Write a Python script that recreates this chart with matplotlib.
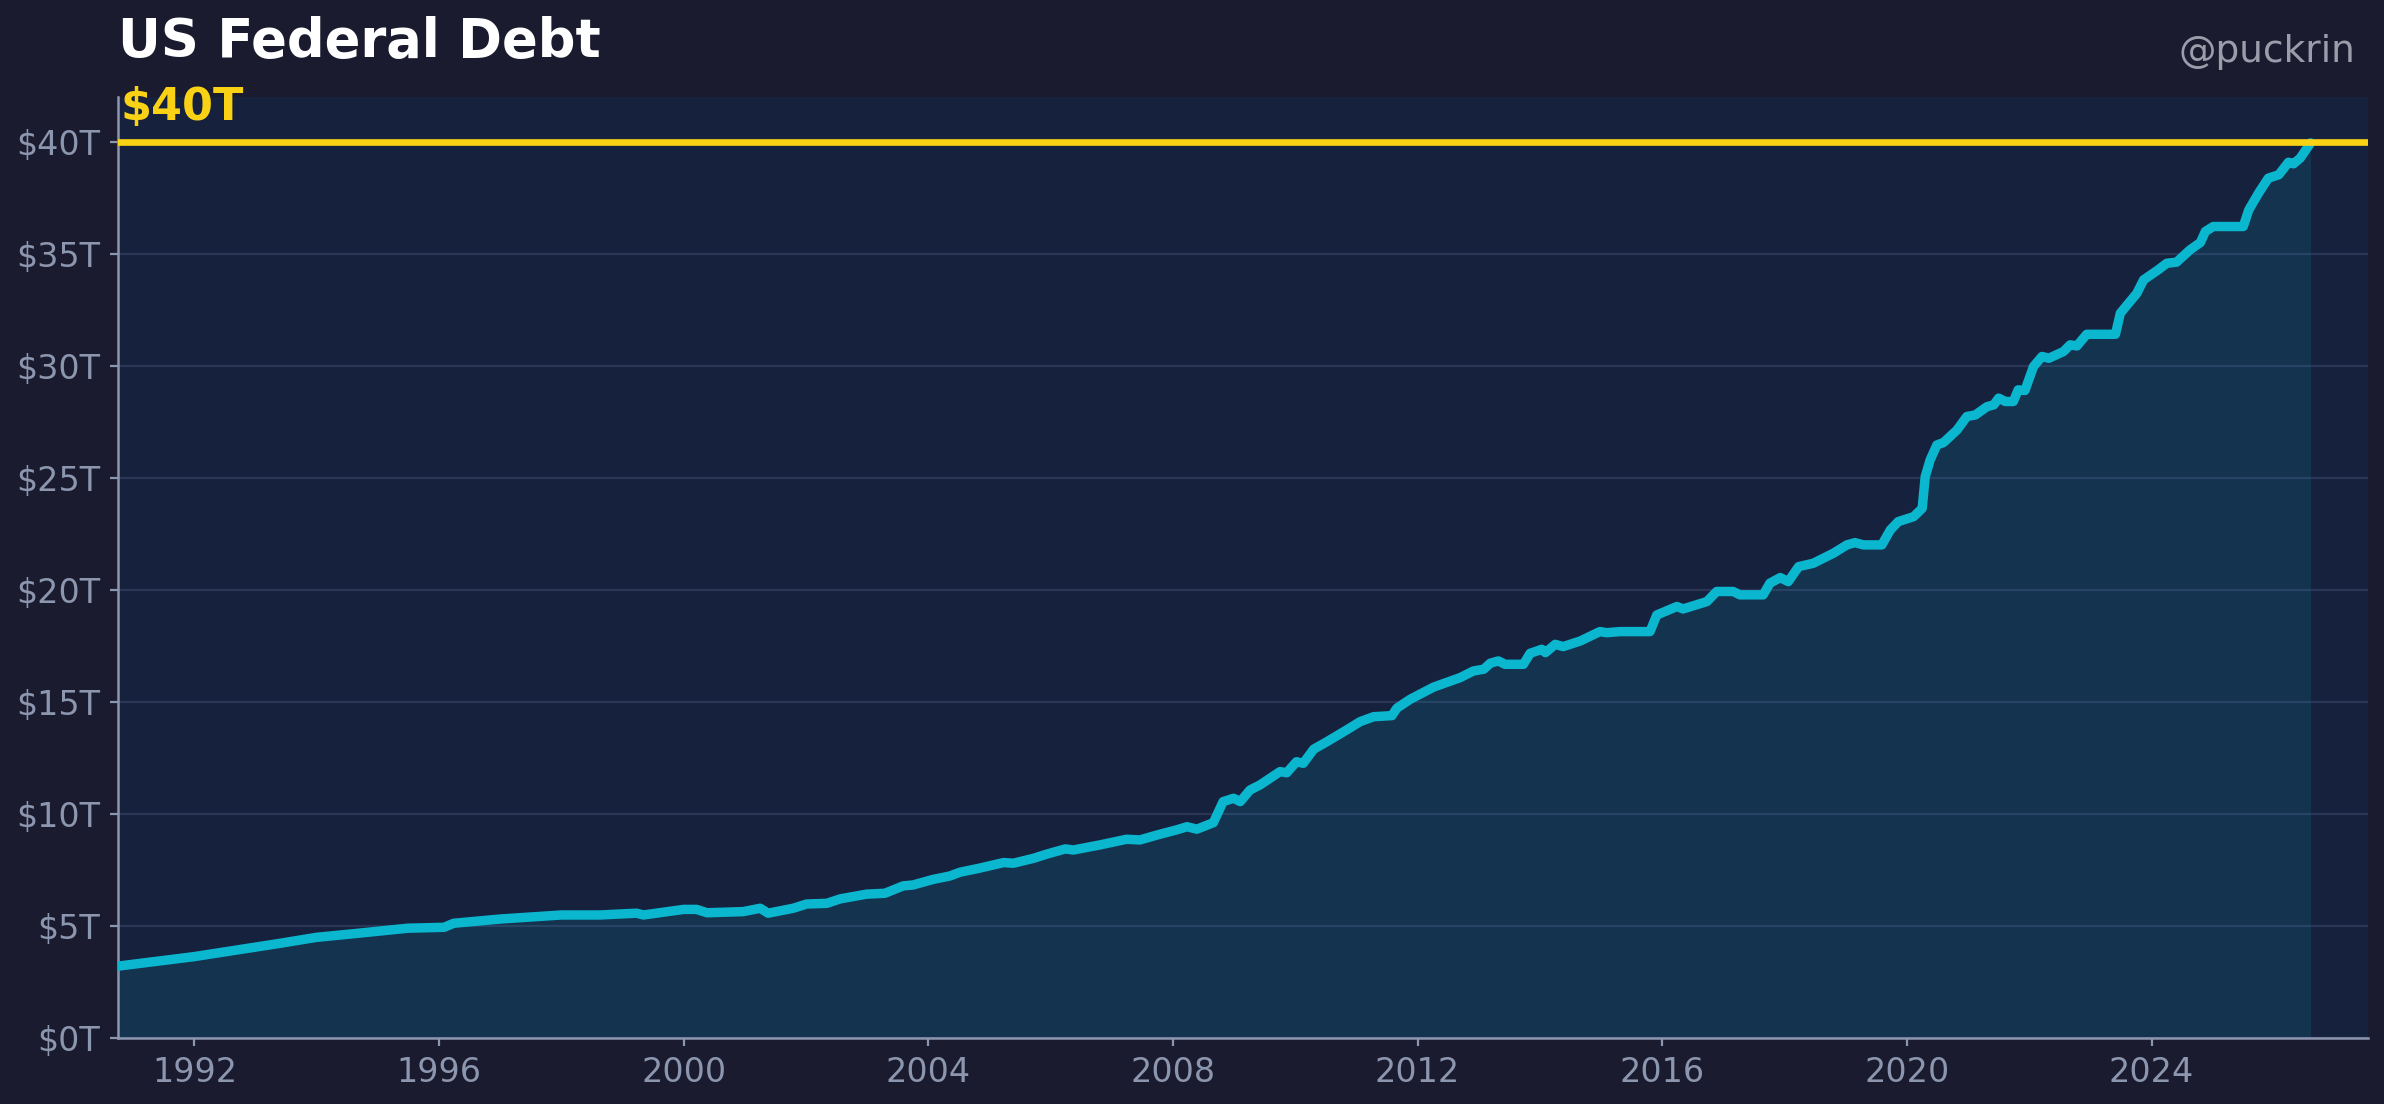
import matplotlib
matplotlib.use("Agg")
import matplotlib.pyplot as plt

# Colours
FIG_BG = "#1a1b2e"
AX_BG = "#16213e"
LINE_COLOR = "#0ab7cf"
LIMIT_COLOR = "#fad215"
MUTED = "#8c96af"

# US federal debt (trillions of dollars)
years = [
    1990.76, 1991.99, 1993.41, 1993.99, 1994.66, 1995.49, 1996.08, 1996.24,
    1997.00, 1998.00, 1998.63, 1999.23, 1999.34, 2000.00, 2000.21, 2000.38,
    2000.97, 2001.25, 2001.38, 2001.79, 2002.01, 2002.34, 2002.56, 2002.99,
    2003.29, 2003.59, 2003.75, 2004.08, 2004.35, 2004.52, 2004.82, 2005.23,
    2005.39, 2005.72, 2005.94, 2006.24, 2006.37, 2006.81, 2007.24, 2007.46,
    2007.74, 2008.06, 2008.23, 2008.39, 2008.66, 2008.82, 2008.99, 2009.10,
    2009.26, 2009.42, 2009.75, 2009.86, 2010.02, 2010.13, 2010.30, 2010.52,
    2010.84, 2011.06, 2011.28, 2011.58, 2011.66, 2011.88, 2012.26, 2012.70,
    2012.91, 2013.08, 2013.19, 2013.32, 2013.43, 2013.73, 2013.84, 2014.03,
    2014.09, 2014.25, 2014.38, 2014.66, 2014.98, 2015.09, 2015.31, 2015.80,
    2015.91, 2016.24, 2016.34, 2016.73, 2016.89, 2017.16, 2017.27, 2017.65,
    2017.76, 2017.93, 2018.06, 2018.23, 2018.47, 2018.80, 2019.02, 2019.15,
    2019.29, 2019.59, 2019.73, 2019.86, 2020.11, 2020.25, 2020.30, 2020.38,
    2020.49, 2020.60, 2020.82, 2020.98, 2021.12, 2021.31, 2021.42, 2021.50,
    2021.61, 2021.74, 2021.82, 2021.93, 2022.07, 2022.21, 2022.32, 2022.56,
    2022.67, 2022.78, 2022.94, 2023.41, 2023.49, 2023.76, 2023.87, 2024.11,
    2024.25, 2024.41, 2024.63, 2024.80, 2024.88, 2025.01, 2025.50, 2025.59,
    2025.75, 2025.91, 2026.08, 2026.24, 2026.32, 2026.43, 2026.60,
]
debt = [
    3.21, 3.63, 4.23, 4.49, 4.67, 4.90, 4.94, 5.12,
    5.31, 5.49, 5.49, 5.57, 5.49, 5.74, 5.74, 5.59,
    5.64, 5.79, 5.57, 5.79, 5.98, 6.01, 6.21, 6.42,
    6.46, 6.79, 6.83, 7.08, 7.23, 7.40, 7.57, 7.83,
    7.80, 8.02, 8.21, 8.44, 8.39, 8.62, 8.87, 8.84,
    9.06, 9.29, 9.43, 9.32, 9.61, 10.55, 10.70, 10.55,
    11.07, 11.29, 11.89, 11.84, 12.33, 12.26, 12.89, 13.23,
    13.75, 14.12, 14.34, 14.39, 14.72, 15.12, 15.66, 16.09,
    16.38, 16.46, 16.73, 16.83, 16.68, 16.68, 17.17, 17.35,
    17.20, 17.57, 17.47, 17.72, 18.14, 18.09, 18.14, 18.14,
    18.88, 19.26, 19.15, 19.48, 19.93, 19.93, 19.78, 19.78,
    20.30, 20.55, 20.37, 21.04, 21.19, 21.64, 22.01, 22.11,
    22.01, 22.01, 22.68, 23.05, 23.27, 23.64, 25.06, 25.80,
    26.47, 26.58, 27.14, 27.74, 27.81, 28.18, 28.26, 28.56,
    28.41, 28.41, 28.93, 28.90, 29.97, 30.42, 30.34, 30.64,
    30.94, 30.89, 31.41, 31.41, 32.35, 33.24, 33.84, 34.29,
    34.58, 34.63, 35.18, 35.51, 36.00, 36.22, 36.22, 36.96,
    37.71, 38.38, 38.53, 39.09, 39.02, 39.27, 39.95,
]

milestone = 40
x_ticks = [1992, 1996, 2000, 2004, 2008, 2012, 2016, 2020, 2024]
y_ticks = [0, 5, 10, 15, 20, 25, 30, 35, 40]
y_labels = [f"${v}T" for v in y_ticks]

fig = plt.figure(figsize=(11.92, 5.52), dpi=200, facecolor=FIG_BG)
ax = fig.add_axes([0.0495, 0.0598, 0.9438, 0.8523])
ax.set_facecolor(AX_BG)

# debt line + area
ax.fill_between(years, debt, 0, color=LINE_COLOR, alpha=0.12, linewidth=0)
ax.plot(years, debt, color=LINE_COLOR, linewidth=3.4, solid_joinstyle="round",
        solid_capstyle="round", zorder=3)

# $40T threshold
ax.axhline(milestone, color=LIMIT_COLOR, linewidth=2.4, zorder=4)
ax.text(years[0] + 0.03, milestone + 0.98, f"${milestone}T", color=LIMIT_COLOR,
        fontsize=16, fontweight="bold", va="baseline", ha="left")

ax.set_xlim(1990.75, 2027.54)
ax.set_ylim(0, 42)
ax.set_xticks(x_ticks)
ax.set_xticklabels([str(y) for y in x_ticks])
ax.set_yticks(y_ticks)
ax.set_yticklabels(y_labels)

ax.grid(axis="y", color="#2b3656", linewidth=0.8)
ax.set_axisbelow(True)
for side in ["top", "right"]:
    ax.spines[side].set_visible(False)
for side in ["left", "bottom"]:
    ax.spines[side].set_color(MUTED)
    ax.spines[side].set_linewidth(0.9)
ax.tick_params(colors=MUTED, labelsize=12, length=3, width=0.8)

fig.text(0.0495, 0.948, "US Federal Debt", color="white", fontsize=19,
         fontweight="bold", ha="left", va="baseline")
fig.text(0.9878, 0.944, "@puckrin", color="#9b9dab", fontsize=13.5,
         ha="right", va="baseline")

fig.savefig("out.png", dpi=200, facecolor=FIG_BG)
